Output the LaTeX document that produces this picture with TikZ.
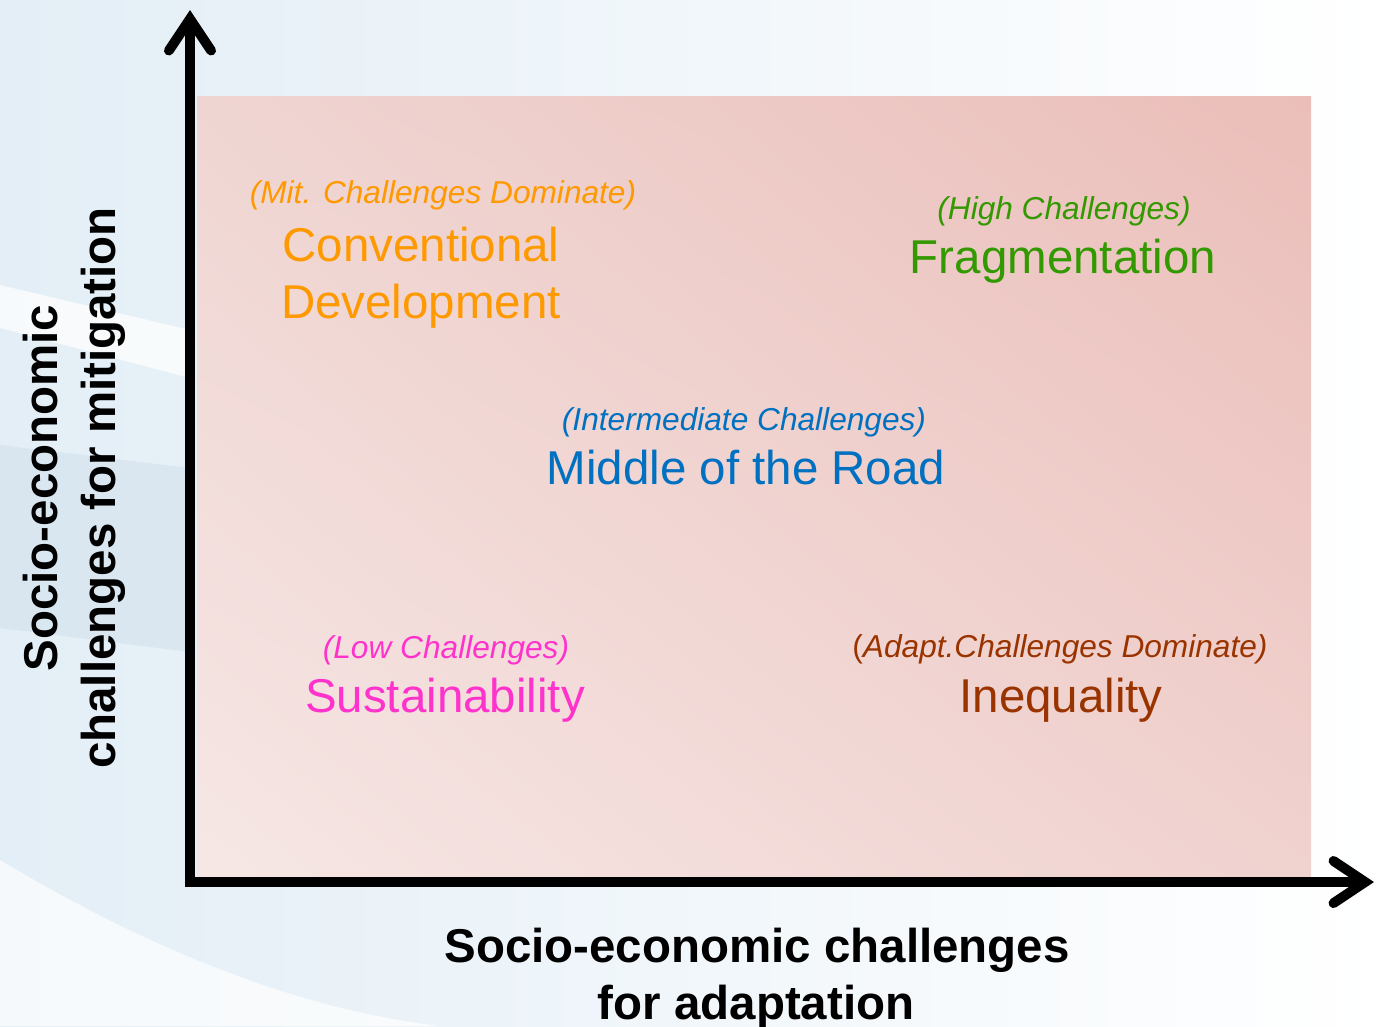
\documentclass[tikz,border=0pt]{standalone}
\usepackage{fontspec}
\setmainfont{Liberation Sans}
\usetikzlibrary{arrows.meta,shadings}

\definecolor{bgblue}{HTML}{E3EEF6}
\definecolor{bandblue}{HTML}{D3E2EC}
\definecolor{pinkul}{HTML}{EFD5D2}
\definecolor{pinkur}{HTML}{EBBEB9}
\definecolor{pinkll}{HTML}{F6E7E5}
\definecolor{pinklr}{HTML}{F0D2CF}
\definecolor{convcol}{HTML}{FF9900}
\definecolor{fragcol}{HTML}{339900}
\definecolor{midcol}{HTML}{0070C0}
\definecolor{suscol}{HTML}{FF33CC}
\definecolor{ineqcol}{HTML}{993300}

\tikzset{
  sub/.style={font=\fontsize{9}{11}\selectfont\itshape, anchor=base, inner sep=0pt},
  big/.style={font=\fontsize{13.5}{16}\selectfont, anchor=base, inner sep=0pt},
  axlabel/.style={font=\fontsize{13.5}{16}\selectfont\bfseries, anchor=base, inner sep=0pt},
  axis/.style={line width=2.8pt, line join=miter,
    {Straight Barb[length=9pt,width=12pt,line cap=round]}-{Straight Barb[length=9pt,width=12pt,line cap=round]}}
}

\begin{document}
\begin{tikzpicture}[x=0.01cm, y=-0.01cm]
  \useasboundingbox (0,0) rectangle (1377,1026);

  % Фон
  \shade[left color=bgblue, right color=white] (0,0) rectangle (1377,1026);
  \fill[white, opacity=0.75] (0,285) -- (190,330) -- (190,378) -- (0,328) -- cycle;
  \fill[bandblue, opacity=0.6] (0,445) -- (190,468) -- (190,652) -- (0,628) -- cycle;
  \fill[white, opacity=0.7] (0,860) .. controls (150,950) and (300,1010) .. (440,1026) -- (0,1026) -- cycle;

  % Поле сценариев
  \shade[upper left=pinkul, upper right=pinkur, lower left=pinkll, lower right=pinklr]
    (197,96) rectangle (1311,882);

  % Оси
  \coordinate (O) at (190,882);
  \coordinate (ytop) at (190,10);
  \coordinate (xend) at (1374,882);
  \draw[axis] (ytop) -- (O) -- (xend);

  % Подписи осей
  \node[axlabel, rotate=90] (ylab1) at (57,488) {Socio-economic};
  \node[axlabel, rotate=90] (ylab2) at (115,488) {challenges for mitigation};
  \node[axlabel] (xlab1) at (757,962) {Socio-economic challenges};
  \node[axlabel] (xlab2) at (756,1019) {for adaptation};

  % Сценарии
  \node[sub, convcol] (mitsub) at (443,203) {(Mit. Challenges Dominate)};
  \node[big, convcol] (conv) at (421,261) {Conventional};
  \node[big, convcol] (devel) at (421,318) {Development};

  \node[sub, fragcol] (highsub) at (1064,219) {(High Challenges)};
  \node[big, fragcol] (frag) at (1063,273) {Fragmentation};

  \node[sub, midcol] (intsub) at (744,430) {(Intermediate Challenges)};
  \node[big, midcol] (road) at (746,484) {Middle of the Road};

  \node[sub, suscol] (lowsub) at (446,658) {(Low Challenges)};
  \node[big, suscol] (sust) at (445,712) {Sustainability};

  \node[sub, ineqcol] (adsub) at (1060,657) {\upshape(\itshape Adapt.Challenges Dominate)};
  \node[big, ineqcol] (ineq) at (1061,712) {Inequality};
\end{tikzpicture}
\end{document}
